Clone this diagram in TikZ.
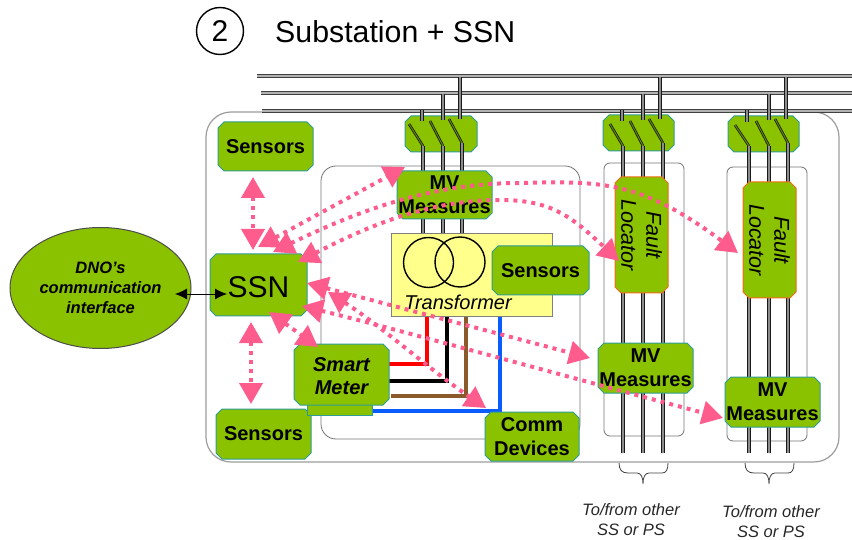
\documentclass[tikz,border=0pt]{standalone}
\usepackage{fontspec}
\setmainfont{Liberation Sans}
\usetikzlibrary{shapes.geometric,arrows.meta}
\definecolor{boxgreen}{HTML}{8AC200}
\definecolor{boxedge}{HTML}{2E9C96}
\definecolor{faultedge}{HTML}{F26A1B}
\definecolor{pinkline}{HTML}{FF5C8E}
\definecolor{xfmr}{HTML}{FFFF8C}
\definecolor{frame}{HTML}{9C9C9C}
\definecolor{wbrown}{HTML}{8A5A2B}
\definecolor{wblue}{HTML}{0A5CFF}
\tikzset{
  gbox/.style={fill=boxgreen,draw=boxedge,line width=1pt},
  fbox/.style={fill=boxgreen,draw=faultedge,line width=1pt},
  btext/.style={font=\fontsize{20}{24}\selectfont\bfseries,align=center,inner sep=0pt},
  ssntext/.style={font=\fontsize{30}{30}\selectfont,inner sep=0pt,yshift=-2pt},
  itext/.style={font=\fontsize{20}{23}\selectfont\bfseries\itshape,align=center,inner sep=0pt,yshift=-1.5pt},
  ftext/.style={font=\fontsize{21.5}{25}\selectfont\itshape,align=center,inner sep=0pt,rotate=-90},
  outer/.style={draw=frame,line width=1.2pt},
  inner/.style={draw=black!55,line width=.8pt},
  bus/.style={draw=black!75,double=white!70!black,line width=1.1pt,double distance=1.1pt},
  wire/.style={draw=black!90,double=white!55!black,line width=1pt,double distance=1.3pt},
  blade/.style={draw=black!90,double=boxgreen!70!black,line width=.8pt,double distance=1pt},
  cable/.style={line width=4pt},
  plink/.style={draw=pinkline,line width=4pt,dash pattern=on 4pt off 5pt,
    {Triangle[length=21pt,width=23pt,fill=pinkline]}-{Triangle[length=21pt,width=23pt,fill=pinkline]}},
  slink/.style={draw=black,line width=.9pt,{Latex[length=12pt,width=11pt]}-{Latex[length=12pt,width=11pt]}},
  capt/.style={font=\fontsize{16.5}{20}\selectfont\itshape,align=center,inner sep=0pt,text=black!85},
  brc/.style={draw=black!75,line width=.8pt},
}
% #1 box style, #2 name, #3 cx, #4 cy, #5 w, #6 h, #7 text style, #8 text
\newcommand\chbox[8]{%
  \path[#1] ({#3-#5/2+6},{#4-#6/2}) -- ({#3+#5/2-6},{#4-#6/2}) -- ({#3+#5/2},{#4-#6/2+6})
    -- ({#3+#5/2},{#4+#6/2-6}) -- ({#3+#5/2-6},{#4+#6/2}) -- ({#3-#5/2+6},{#4+#6/2})
    -- ({#3-#5/2},{#4+#6/2-6}) -- ({#3-#5/2},{#4-#6/2+6}) -- cycle;
  \node[#7] (#2) at (#3,#4) {#8};}
\begin{document}
\begin{tikzpicture}[x=1pt,y=-1pt]
\useasboundingbox (0,0) rectangle (852,540);
% title
\node[circle,draw=black,line width=1.4pt,minimum size=47pt,inner sep=0pt,font=\fontsize{30}{30}\selectfont] (num) at (220,31) {2};
\node[anchor=west,inner sep=0pt,font=\fontsize{30.3}{30}\selectfont] (title) at (275,32) {Substation + SSN};
% frames
\draw[outer,rounded corners=25pt] (206,112) rectangle (839,462);
\draw[inner,rounded corners=15pt] (321,166) rectangle (580,439);
\draw[inner,rounded corners=6pt] (604,163) rectangle (684,436);
\draw[inner,rounded corners=6pt] (727,167) rectangle (807,441);
% busbars
\draw[bus] (257,76) -- (852,76);
\draw[bus] (261,93) -- (852,93);
\draw[bus] (262,111) -- (852,111);
% switch boxes
\chbox{gbox}{swa}{441}{134}{72}{36}{inner sep=0pt}{}
\chbox{gbox}{swb}{638.5}{133}{71}{36}{inner sep=0pt}{}
\chbox{gbox}{swc}{763.5}{134}{71}{36}{inner sep=0pt}{}
% stubs, blades, feeders
\foreach \sa/\sb/\sc/\la/\lb/\lc/\ba/\bb/\bc/\ya/\yb/\yc/\yend in {
  422/443/460/423/443/462/409/430/449/124/121/119/236,
  622/643/660/623/643/663/610/630/649/124/121/119/453,
  747/769/786/749/769/788/735/756/775/125/121/119/453}{
  \draw[wire] (\sa,110) -- (\sa,\ya-3);
  \draw[wire] (\sb,94) -- (\sb,\yb-1);
  \draw[wire] (\sc,77) -- (\sc,\yc);
  \draw[blade] (\ba,\ya) -- (\la,146);
  \draw[blade] (\bb,\yb) -- (\lb,146);
  \draw[blade] (\bc,\yc) -- (\lc,143);
  \draw[wire] (\la,146) -- (\la,\yend);
  \draw[wire] (\lb,146) -- (\lb,\yend);
  \draw[wire] (\lc,143) -- (\lc,\yend);
}
% cables
\draw[cable,wblue] (500,316) -- (500,411) -- (372,411);
\draw[cable,red] (427,316) -- (427,364) -- (384,364);
\draw[cable,black] (447,316) -- (447,381) -- (385,381);
\draw[cable,wbrown] (466,316) -- (466,396) -- (391,396);
% transformer
\node[draw=black!50,line width=1pt,fill=xfmr,minimum width=161pt,minimum height=83pt,inner sep=0pt] (tr) at (471.5,275.5) {};
\node[circle,draw=black,line width=1.4pt,minimum size=50pt,inner sep=0pt] (coila) at (428.5,262.5) {};
\node[circle,draw=black,line width=1.4pt,minimum size=50pt,inner sep=0pt] (coilb) at (460,262) {};
\node[inner sep=0pt,font=\fontsize{20}{20}\selectfont\itshape] (trl) at (458,302) {Transformer};
% boxes
\chbox{gbox}{sa}{265.5}{146.5}{95}{49}{btext}{Sensors}
\chbox{gbox}{sr}{540.5}{270.5}{97}{49}{btext}{Sensors}
\chbox{gbox}{sb}{263.5}{434}{95}{50}{btext}{Sensors}
\chbox{gbox}{ssn}{258.5}{285}{97}{62}{ssntext}{SSN}
\chbox{gbox}{mva}{444.5}{195}{95}{48}{btext}{MV\\Measures}
\chbox{gbox}{mvb}{645.5}{368}{95}{50}{btext}{MV\\Measures}
\chbox{gbox}{mvc}{772.5}{402}{95}{50}{btext}{MV\\Measures}
\node[draw=boxedge,fill=boxgreen,line width=.6pt,minimum width=65pt,minimum height=15pt,inner sep=0pt] (under) at (339.5,407.5) {};
\chbox{gbox}{sm}{341.5}{374.5}{95}{61}{itext}{Smart\\Meter}
\chbox{gbox}{comm}{532}{436.5}{94}{49}{btext}{Comm\\Devices}
\chbox{fbox}{fa}{641.5}{235}{53}{116}{ftext}{Fault\\Locator}
\chbox{fbox}{fb}{769.5}{240}{53}{116}{ftext}{Fault\\Locator}
% DNO
\node[ellipse,draw=black!70,line width=1pt,fill=boxgreen,minimum width=181pt,minimum height=121pt,inner sep=0pt,
  font=\fontsize{16.5}{20}\selectfont\bfseries\itshape,align=center] (dno) at (100.5,288) {DNO's\\communication\\interface};
\coordinate (dnoT) at (175,294);
\coordinate (ssnT) at (227,294);
\draw[slink] (dnoT) -- (ssnT);
% pink links
\coordinate (aT) at (253,177);  \coordinate (aB) at (253,250);
\coordinate (bT) at (251,322);  \coordinate (bB) at (251,404);
\coordinate (cT) at (269,312);  \coordinate (cB) at (318,347);
\coordinate (dS) at (258,247);  \coordinate (dE) at (405,167);
\coordinate (eS) at (273,252);  \coordinate (eE) at (738,253);
\coordinate (fS) at (298,262);  \coordinate (fE) at (619,261);
\coordinate (gS) at (307,283);  \coordinate (gE) at (590,358);
\coordinate (hS) at (302,306);  \coordinate (hE) at (723,418);
\coordinate (iS) at (328,292);  \coordinate (iE) at (486,408);
\draw[plink] (aT) -- (aB);
\draw[plink] (bT) -- (bB);
\draw[plink] (cT) -- (cB);
\draw[plink] (dS) -- (dE);
\draw[plink] (eS) .. controls (370,205) and (440,183) .. (520,183) .. controls (600,181) and (640,180) .. (eE);
\draw[plink] (fS) .. controls (370,225) and (430,200) .. (500,200) .. controls (550,200) and (570,215) .. (fE);
\draw[plink] (gS) -- (gE);
\draw[plink] (hS) .. controls (400,330) and (560,375) .. (hE);
\draw[plink] (iS) .. controls (380,325) and (430,370) .. (iE);
% braces
\draw[brc] (619,463) .. controls (619,470) and (622,473) .. (628,473) -- (637,473) .. controls (641,473) and (643,477) .. (643,484)
  (643,484) .. controls (643,477) and (645,473) .. (649,473) -- (662,473) .. controls (666,473) and (668,470) .. (668,463);
\draw[brc] (745,463) .. controls (745,470) and (748,473) .. (754,473) -- (763,473) .. controls (767,473) and (769,477) .. (769,484)
  (769,484) .. controls (769,477) and (771,473) .. (775,473) -- (788,473) .. controls (792,473) and (794,470) .. (794,463);
% captions
\node[capt] (cpa) at (631,520) {To/from other\\SS or PS};
\node[capt] (cpb) at (771,522) {To/from other\\SS or PS};
\end{tikzpicture}
\end{document}
